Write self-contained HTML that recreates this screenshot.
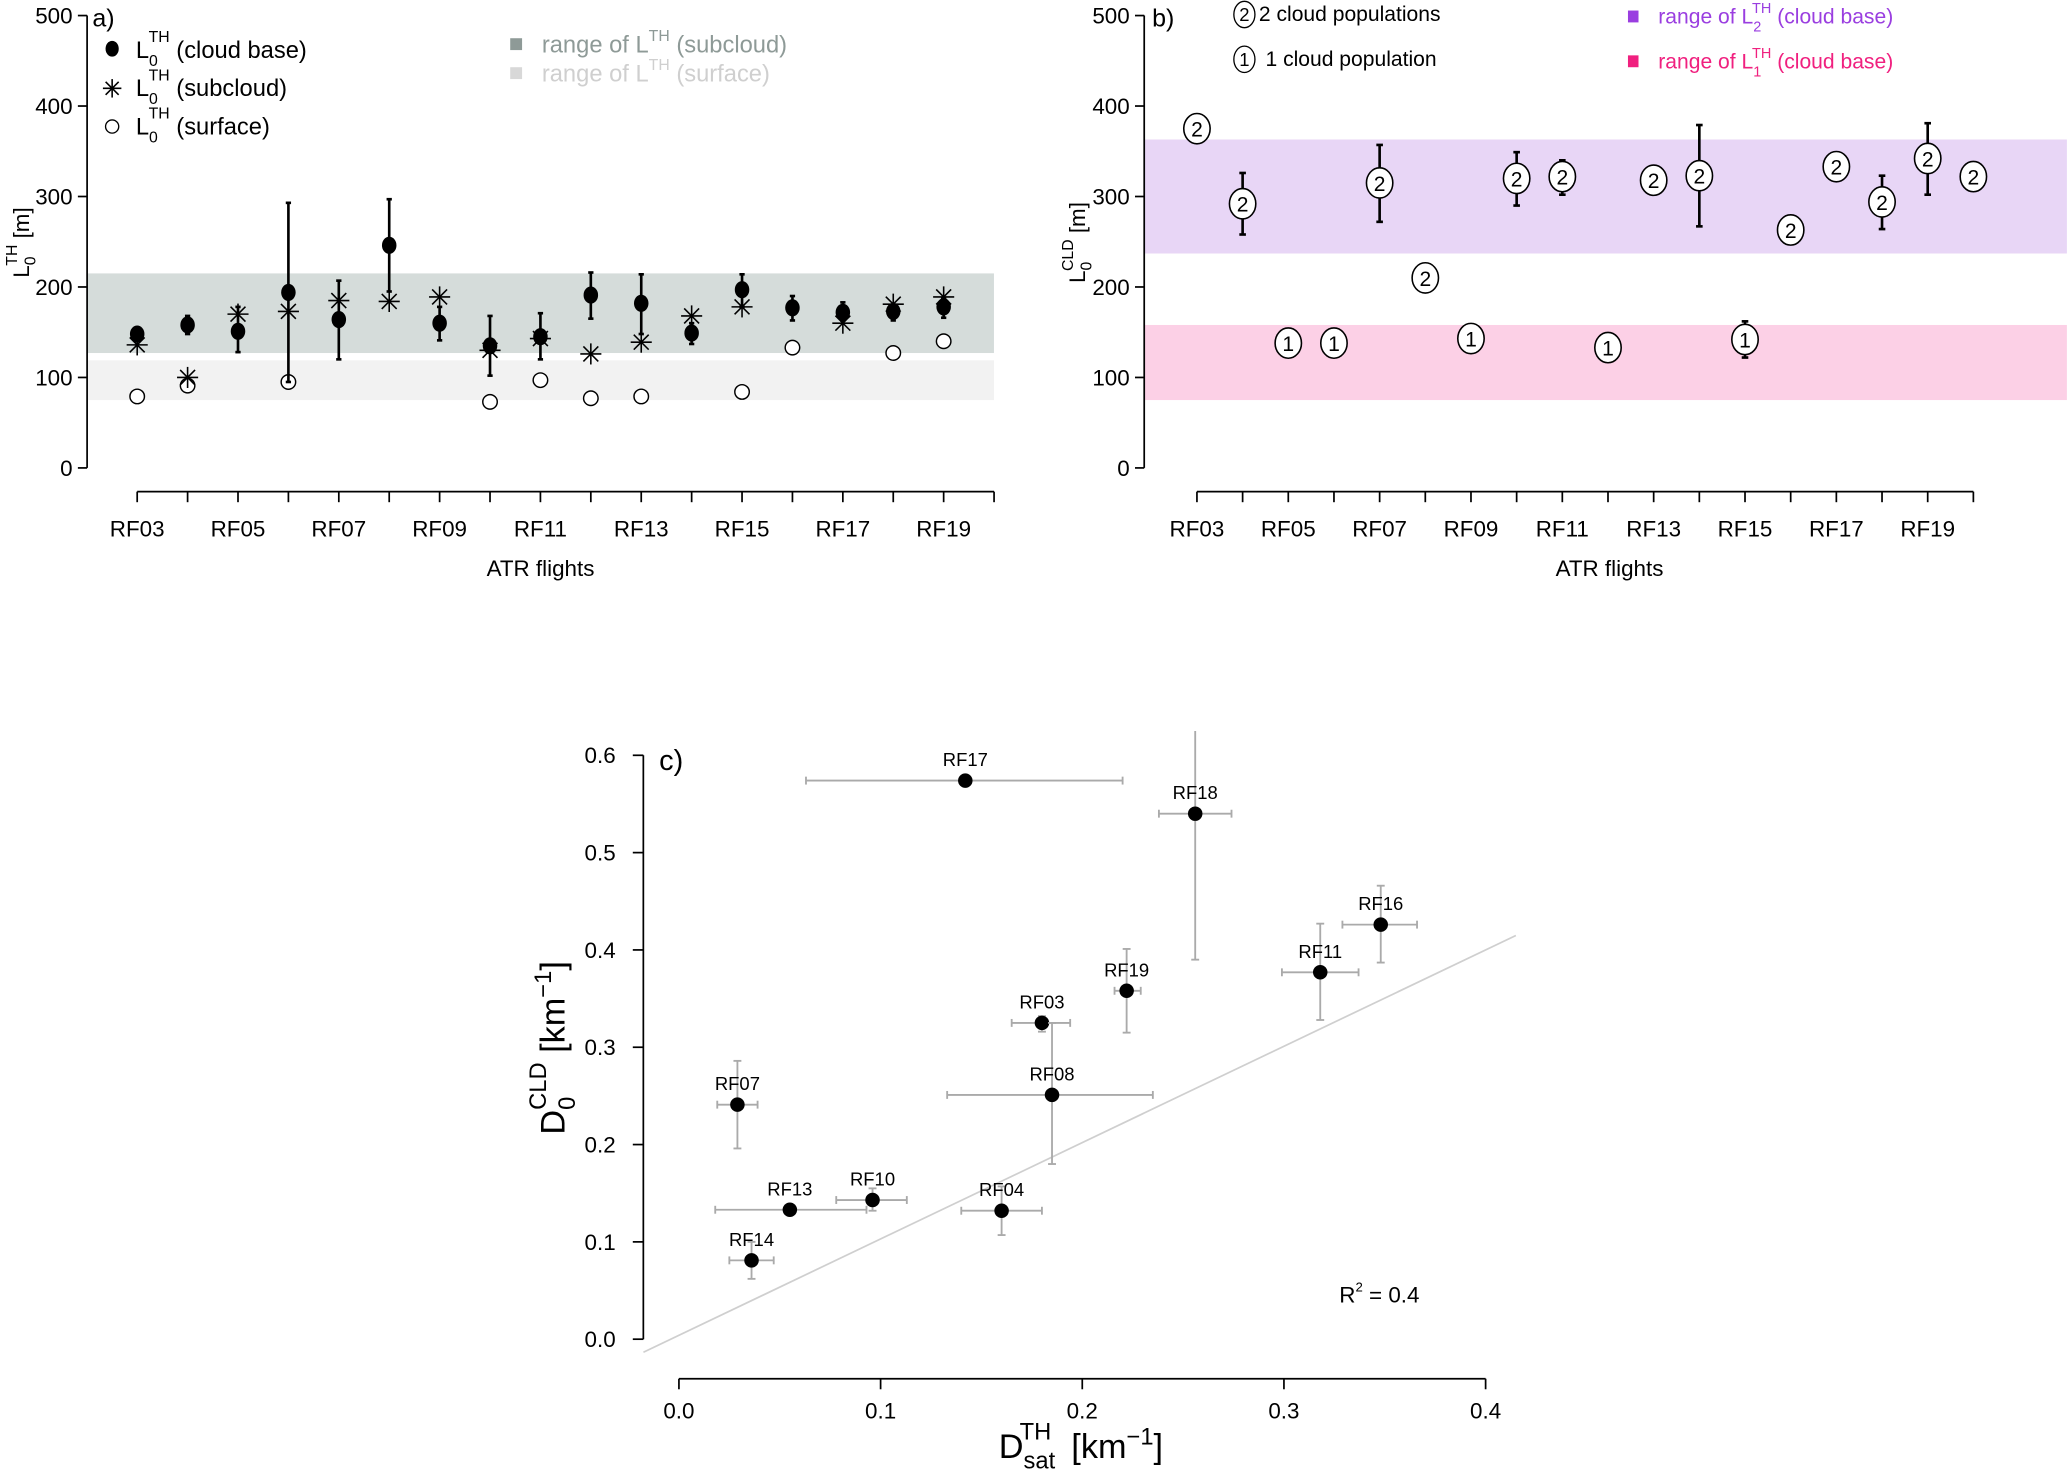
<!DOCTYPE html>
<html><head><meta charset="utf-8"><style>
html,body{margin:0;padding:0;background:#fff}
svg{display:block;font-family:"Liberation Sans",sans-serif}
</style></head><body>
<svg id="fig" width="2067" height="1471" viewBox="0 0 1568 1116" xmlns="http://www.w3.org/2000/svg">
<g id="pa"></g>
<g id="pb"></g>
<g id="pc"></g>
</svg>
<script>
const flights=["RF03","RF04","RF05","RF06","RF07","RF08","RF09","RF10","RF11","RF12","RF13","RF14","RF15","RF16","RF17","RF18","RF19","RF20"];
const cloudBase=[148,158,151,194,164,246,160,135,145,191,182,149,197,177,172,173,178,null];
const cloudLo=[142,148,128,95,120,195,141,102,120,165,148,137,178,163,163,163,166,null];
const cloudHi=[155,168,178,293,207,297,178,168,171,216,214,160,214,190,183,180,188,null];
const subcloud=[136,100,170,173,185,184,189,130,143,126,139,168,178,null,160,181,189,null];
const surface=[79,91,null,95,null,null,null,73,97,77,79,null,84,133,null,127,140,null];
const bandSub=[127,215], bandSurf=[75,119];
const popVal=[375,292,138,138,315,210,143,320,322,133,318,323,142,263,333,294,342,322];
const popN=[2,2,1,1,2,2,1,2,2,1,2,2,1,2,2,2,2,2];
const popLo=[null,258,null,null,272,null,null,290,302,null,null,267,122,null,null,264,302,null];
const popHi=[null,326,null,null,357,null,null,349,340,null,null,379,162,null,null,323,381,null];
const band2=[237,363], band1=[75,158];
const cNames=["RF17","RF18","RF16","RF11","RF19","RF03","RF08","RF07","RF10","RF04","RF13","RF14"];
const cX=[0.142,0.256,0.348,0.318,0.222,0.180,0.185,0.029,0.096,0.160,0.055,0.036];
const cY=[0.574,0.540,0.426,0.377,0.358,0.325,0.251,0.241,0.143,0.132,0.133,0.081];
const cXlo=[0.063,0.238,0.329,0.299,0.216,0.165,0.133,0.019,0.078,0.140,0.018,0.025];
const cXhi=[0.220,0.274,0.366,0.337,0.229,0.194,0.235,0.039,0.113,0.180,0.093,0.047];
const cYlo=[0.574,0.390,0.387,0.328,0.315,0.316,0.180,0.196,0.132,0.107,0.130,0.062];
const cYhi=[0.574,0.625,0.466,0.427,0.401,0.332,0.325,0.286,0.155,0.157,0.136,0.100];
const fitSlope=0.99, fitInt=0.004;
const xTicksC=[0,0.1,0.2,0.3,0.4], xTickLabC=["0.0","0.1","0.2","0.3","0.4"];
const yTicksC=[0,0.1,0.2,0.3,0.4,0.5,0.6], yTickLabC=["0.0","0.1","0.2","0.3","0.4","0.5","0.6"];
const yTicksL=[0,100,200,300,400,500];

const NS="http://www.w3.org/2000/svg";
function mk(p,t,a,txt){const e=document.createElementNS(NS,t);for(const k in a)e.setAttribute(k,a[k]);if(txt!=null)e.textContent=txt;p.appendChild(e);return e;}
function txt(p,x,y,s,size,anchor,fill){return mk(p,"text",{x:x,y:y,"font-size":size,"text-anchor":anchor||"start",fill:fill||"#000"},s);}

function flightAxis(g,x0,step,yAxis,xAxis,x1,yS,titleX){
  const lx=x=>x0+x*step;
  let ya=mk(g,"line",{x1:yAxis,y1:yS(0),x2:yAxis,y2:yS(500),stroke:"#000","stroke-width":1.3});
  
  yTicksL.forEach(v=>{mk(g,"line",{x1:yAxis-7,y1:yS(v),x2:yAxis,y2:yS(v),stroke:"#000","stroke-width":1.3});
    let t=txt(g,yAxis-11,yS(v)+6,String(v),17,"end");});
  let xa=mk(g,"line",{x1:lx(0),y1:xAxis,x2:lx(17),y2:xAxis,stroke:"#000","stroke-width":1.3});
  
  flights.forEach((f,i)=>{mk(g,"line",{x1:lx(i),y1:xAxis,x2:lx(i),y2:xAxis+8,stroke:"#000","stroke-width":1.3});
    if(i%2==0){let t=txt(g,lx(i),xAxis+34,f,17,"middle");}});
  let xt=txt(g,titleX,xAxis+64,"ATR flights",17,"middle");
  
  return lx;
}
function errbar(g,x,y1,y2,col,w,cap){mk(g,"line",{x1:x,y1:y1,x2:x,y2:y2,stroke:col,"stroke-width":w});
  mk(g,"line",{x1:x-cap,y1:y1,x2:x+cap,y2:y1,stroke:col,"stroke-width":w});mk(g,"line",{x1:x-cap,y1:y2,x2:x+cap,y2:y2,stroke:col,"stroke-width":w});}
function star(g,x,y,r){for(let k=0;k<4;k++){const a=k*Math.PI/4;mk(g,"line",{x1:x-r*Math.cos(a),y1:y-r*Math.sin(a),x2:x+r*Math.cos(a),y2:y+r*Math.sin(a),stroke:"#000","stroke-width":1.2});}}

// Panel A
(function(){
 const g=document.getElementById("pa");
 const yS=v=>355-v*0.6864;
 let b1=mk(g,"rect",{x:66,y:yS(bandSub[1]),width:688,height:yS(bandSub[0])-yS(bandSub[1]),fill:"#d5dcda"});
 
 let b2=mk(g,"rect",{x:66,y:yS(bandSurf[1]),width:688,height:yS(bandSurf[0])-yS(bandSurf[1]),fill:"#f2f2f2"});
 
 const lx=flightAxis(g,104,38.24,66,373,754,yS,410);
 let yt=mk(g,"text",{transform:"translate(22,184) rotate(-90)","font-size":17,"text-anchor":"middle"});
 yt.innerHTML='L<tspan font-size="12" dy="5">0</tspan><tspan font-size="12" dy="-14" dx="-7">TH</tspan><tspan dy="9"> [m]</tspan>';
 
 flights.forEach((f,i)=>{
  if(surface[i]!=null){let c=mk(g,"circle",{cx:lx(i),cy:yS(surface[i]),r:5.5,fill:"#fff",stroke:"#000","stroke-width":1.1});}
  if(cloudBase[i]!=null){errbar(g,lx(i),yS(cloudLo[i]),yS(cloudHi[i]),"#000",2,2);
   let c=mk(g,"ellipse",{cx:lx(i),cy:yS(cloudBase[i]),rx:5.5,ry:6.5,fill:"#000"});}
  if(subcloud[i]!=null)star(g,lx(i),yS(subcloud[i]),8);
 });
 txt(g,70,20,"a)",19);
 const leg=mk(g,"g",{});
 const labs=["(cloud base)","(subcloud)","(surface)"];
 labs.forEach((l,k)=>{const y=37+k*29;
  if(k==0)mk(leg,"ellipse",{cx:85,cy:y,rx:5,ry:6,fill:"#000"});else if(k==1)star(leg,85,y+1,7);else mk(leg,"circle",{cx:85,cy:y+1,r:5,fill:"#fff",stroke:"#000"});
  let t=mk(leg,"text",{x:103,y:y+7,"font-size":18});t.innerHTML='L<tspan font-size="12" dy="6">0</tspan><tspan font-size="12" dy="-18" dx="-7">TH</tspan><tspan dy="12"> '+l+'</tspan>';
  });
 mk(leg,"rect",{x:387,y:29,width:9,height:9,fill:"#8e9a97"});
 let t1=mk(leg,"text",{x:411,y:40,"font-size":18,fill:"#8e9a97"});t1.innerHTML='range of L<tspan font-size="12" dy="-9">TH</tspan><tspan dy="9"> (subcloud)</tspan>';
 mk(leg,"rect",{x:387,y:51,width:9,height:9,fill:"#d8d8d8"});
 let t2=mk(leg,"text",{x:411,y:62,"font-size":18,fill:"#cfcfcf"});t2.innerHTML='range of L<tspan font-size="12" dy="-9">TH</tspan><tspan dy="9"> (surface)</tspan>';
})();

// Panel B
(function(){
 const g=document.getElementById("pb");
 const yS=v=>355-v*0.6864;
 let b1=mk(g,"rect",{x:868,y:yS(band2[1]),width:700,height:yS(band2[0])-yS(band2[1]),fill:"#e8d6f6"});
 
 let b2=mk(g,"rect",{x:868,y:yS(band1[1]),width:700,height:yS(band1[0])-yS(band1[1]),fill:"#fcd0e6"});
 
 const lx=flightAxis(g,908,34.65,868,373,1497,yS,1221);
 let yt=mk(g,"text",{transform:"translate(823,184) rotate(-90)","font-size":17,"text-anchor":"middle"});
 yt.innerHTML='L<tspan font-size="12" dy="5">0</tspan><tspan font-size="12" dy="-14" dx="-7">CLD</tspan><tspan dy="9"> [m]</tspan>';
 
 flights.forEach((f,i)=>{
  if(popLo[i]!=null)errbar(g,lx(i),yS(popLo[i]),yS(popHi[i]),"#000",2,2.5);
  const c=mk(g,"g",{});
  mk(c,"ellipse",{cx:lx(i),cy:yS(popVal[i]),rx:10,ry:11.5,fill:"#fff",stroke:"#000","stroke-width":1.2});
  txt(c,lx(i),yS(popVal[i])+6,String(popN[i]),16,"middle");
 });
 txt(g,874,20,"b)",19);
 const leg=mk(g,"g",{});
 mk(leg,"ellipse",{cx:944,cy:11,rx:8,ry:10,fill:"#fff",stroke:"#000"});txt(leg,944,16,"2",14,"middle");txt(leg,955,16,"2 cloud populations",16);
 mk(leg,"ellipse",{cx:944,cy:45,rx:8,ry:10,fill:"#fff",stroke:"#000"});txt(leg,944,50,"1",14,"middle");txt(leg,960,50,"1 cloud population",16);
 mk(leg,"rect",{x:1235,y:8,width:8,height:9,fill:"#9a3ee0"});
 let t1=mk(leg,"text",{x:1258,y:18,"font-size":16,fill:"#9a3ee0"});t1.innerHTML='range of L<tspan font-size="11" dy="6">2</tspan><tspan font-size="11" dy="-14" dx="-7">TH</tspan><tspan dy="8"> (cloud base)</tspan>';
 mk(leg,"rect",{x:1235,y:42,width:8,height:9,fill:"#f0207f"});
 let t2=mk(leg,"text",{x:1258,y:52,"font-size":16,fill:"#f0207f"});t2.innerHTML='range of L<tspan font-size="11" dy="6">1</tspan><tspan font-size="11" dy="-14" dx="-7">TH</tspan><tspan dy="8"> (cloud base)</tspan>';
})();

// Panel C
(function(){
 const g=document.getElementById("pc");
 const xS=v=>515+v*1530, yS=v=>1016-v*738.3;
 let ya=mk(g,"line",{x1:488,y1:yS(0),x2:488,y2:yS(0.6),stroke:"#000","stroke-width":1.3});
 yTicksC.forEach((v,i)=>{mk(g,"line",{x1:480,y1:yS(v),x2:488,y2:yS(v),stroke:"#000","stroke-width":1.3});
  let t=txt(g,467,yS(v)+6,yTickLabC[i],17,"end");});
 let xa=mk(g,"line",{x1:xS(0),y1:1046,x2:xS(0.4),y2:1046,stroke:"#000","stroke-width":1.3});
 xTicksC.forEach((v,i)=>{mk(g,"line",{x1:xS(v),y1:1046,x2:xS(v),y2:1054,stroke:"#000","stroke-width":1.3});
  let t=txt(g,xS(v),1076,xTickLabC[i],17,"middle");});
 const fx0=-0.0176, fx1=0.415;
 let fl=mk(g,"line",{x1:xS(fx0),y1:yS(fitInt+fitSlope*fx0),x2:xS(fx1),y2:yS(fitInt+fitSlope*fx1),stroke:"#cfcfcf","stroke-width":1.3});
 
 cNames.forEach((n,i)=>{
  const x=xS(cX[i]),y=yS(cY[i]);
  mk(g,"line",{x1:xS(cXlo[i]),y1:y,x2:xS(cXhi[i]),y2:y,stroke:"#aaa","stroke-width":1.4});
  mk(g,"line",{x1:xS(cXlo[i]),y1:y-3,x2:xS(cXlo[i]),y2:y+3,stroke:"#aaa","stroke-width":1.4});
  mk(g,"line",{x1:xS(cXhi[i]),y1:y-3,x2:xS(cXhi[i]),y2:y+3,stroke:"#aaa","stroke-width":1.4});
  if(cYhi[i]-cYlo[i]>0.001){mk(g,"line",{x1:x,y1:yS(cYlo[i]),x2:x,y2:yS(cYhi[i]),stroke:"#aaa","stroke-width":1.4});
   mk(g,"line",{x1:x-3,y1:yS(cYlo[i]),x2:x+3,y2:yS(cYlo[i]),stroke:"#aaa","stroke-width":1.4});
   if(cYhi[i]<0.6)mk(g,"line",{x1:x-3,y1:yS(cYhi[i]),x2:x+3,y2:yS(cYhi[i]),stroke:"#aaa","stroke-width":1.4});}
  let p=mk(g,"circle",{cx:x,cy:y,r:5.5,fill:"#000"});
  let l=txt(g,x,y-11,n,14,"middle");
 });
 txt(g,500,584,"c)",22);
 let r=mk(g,"text",{x:1016,y:988,"font-size":17});r.innerHTML='R<tspan font-size="10" dy="-8">2</tspan><tspan dy="8"> = 0.4</tspan>';
 
 let yt=mk(g,"text",{transform:"translate(428,795) rotate(-90)","font-size":26,"text-anchor":"middle"});
 yt.innerHTML='D<tspan font-size="18" dy="8">0</tspan><tspan font-size="18" dy="-22" dx="-10">CLD</tspan><tspan dy="14"> [km</tspan><tspan font-size="18" dy="-10">−1</tspan><tspan dy="10">]</tspan>';
 
 let xt=mk(g,"text",{x:820,y:1106,"font-size":26,"text-anchor":"middle"});
 xt.innerHTML='D<tspan font-size="18" dy="8">sat</tspan><tspan font-size="18" dy="-22" dx="-27">TH</tspan><tspan dy="14" dx="8"> [km</tspan><tspan font-size="18" dy="-10">−1</tspan><tspan dy="10">]</tspan>';
 
})();
</script>
</body></html>
